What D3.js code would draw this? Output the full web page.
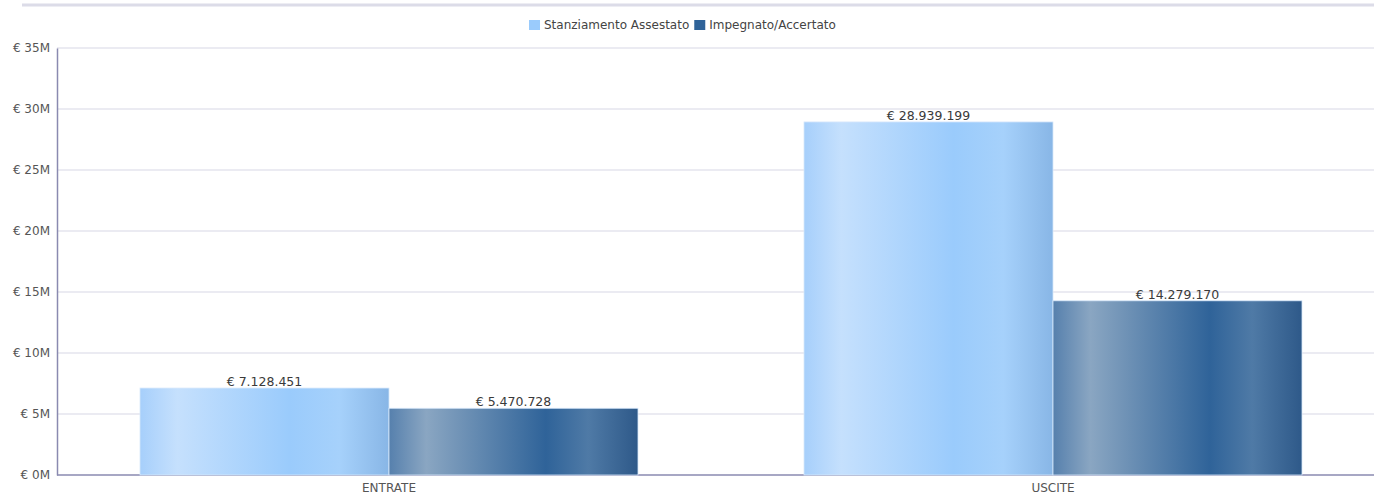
<!DOCTYPE html>
<html lang="en">
<head>
    <meta charset="UTF-8">
    <title>Entrate / Uscite</title>
    <script src="https://d3js.org/d3.v7.min.js"></script>
    <style>
        body {
            margin: 0;
            background: #fff;
        }

        svg {
            display: block;
            font-family: "DejaVu Sans", sans-serif;
        }

        .grid line {
            stroke: #e4e4ee;
            stroke-width: 1.5px;
        }

        .tick-label {
            font-family: "DejaVu Sans", sans-serif;
            font-size: 12px;
            fill: #555;
        }

        .value-label {
            font-size: 12.5px;
            fill: #3a3a3a;
        }
    </style>
</head>
<body>
    <script>
        const categories = ["ENTRATE", "USCITE"];
        const seriesNames = ["Stanziamento Assestato", "Impegnato/Accertato"];
        const stanziamento = [7128451, 28939199];
        const impegnato = [5470728, 14279170];
        const yTicks = [0, 5e6, 10e6, 15e6, 20e6, 25e6, 30e6, 35e6];

        const width = 1374, height = 495;
        const margin = { top: 48, right: -11, bottom: 20, left: 57 };

        const svg = d3.select("body").append("svg")
            .attr("width", width)
            .attr("height", height);

        // bar gradients
        const defs = svg.append("defs");
        const gradients = [
            { id: "gLight", stops: [[0, "#a6cffb"], [0.15, "#c5e0fd"], [0.6, "#9acbfc"], [0.8, "#a6d1fb"], [1, "#88b6e6"]] },
            { id: "gDark", stops: [[0, "#5680ad"], [0.15, "#8aa6c2"], [0.63, "#2f6399"], [0.8, "#4f7aa6"], [1, "#2e5989"]] }
        ];
        gradients.forEach(g => {
            const lg = defs.append("linearGradient")
                .attr("id", g.id)
                .attr("x1", "0%").attr("x2", "100%")
                .attr("y1", "0%").attr("y2", "0%");
            g.stops.forEach(s => lg.append("stop").attr("offset", s[0]).attr("stop-color", s[1]));
        });

        const x0 = d3.scaleBand()
            .domain(categories)
            .range([margin.left, width - margin.right])
            .paddingInner(0.25)
            .paddingOuter(0.125);

        const x1 = d3.scaleBand()
            .domain(seriesNames)
            .range([0, x0.bandwidth()]);

        const y = d3.scaleLinear()
            .domain([0, 35e6])
            .range([height - margin.bottom, margin.top]);

        // top border line
        svg.append("line")
            .attr("x1", 22).attr("x2", width)
            .attr("y1", 5).attr("y2", 5)
            .attr("stroke", "#dcdce8")
            .attr("stroke-width", 3);

        // grid
        svg.append("g")
            .attr("class", "grid")
            .selectAll("line")
            .data(yTicks.filter(d => d > 0))
            .join("line")
            .attr("x1", margin.left)
            .attr("x2", width)
            .attr("y1", d => y(d))
            .attr("y2", d => y(d));

        // y axis
        const yAxis = svg.append("g")
            .attr("transform", `translate(${margin.left},0)`)
            .call(d3.axisLeft(y).tickValues(yTicks).tickSize(0).tickPadding(7).tickFormat(d => `€ ${d / 1e6}M`));
        yAxis.select(".domain").attr("stroke", "#8a8ab0").attr("stroke-width", 1.5);
        yAxis.selectAll(".tick text").attr("class", "tick-label");

        // x axis
        const xAxis = svg.append("g")
            .attr("transform", `translate(0,${y(0)})`)
            .call(d3.axisBottom(x0).tickSize(0).tickPadding(8));
        xAxis.select(".domain").attr("stroke", "#8a8ab0").attr("stroke-width", 1.5)
            .attr("d", `M${margin.left},0H${width}`);
        xAxis.selectAll(".tick text").attr("class", "tick-label");

        // bars
        const rows = categories.map((c, i) => ({
            cat: c,
            vals: [
                { name: seriesNames[0], v: stanziamento[i], fill: "url(#gLight)" },
                { name: seriesNames[1], v: impegnato[i], fill: "url(#gDark)" }
            ]
        }));

        const fmt = d3.formatLocale({ decimal: ",", thousands: ".", grouping: [3], currency: ["€", ""] }).format(",d");

        const groups = svg.append("g")
            .selectAll("g")
            .data(rows)
            .join("g")
            .attr("transform", d => `translate(${x0(d.cat)},0)`);

        groups.selectAll("rect")
            .data(d => d.vals)
            .join("rect")
            .attr("x", d => x1(d.name))
            .attr("y", d => y(d.v))
            .attr("width", x1.bandwidth())
            .attr("height", d => y(0) - y(d.v))
            .attr("fill", d => d.fill)
            .attr("stroke", "#d8e8fb")
            .attr("stroke-width", 0.8);

        groups.selectAll("text")
            .data(d => d.vals)
            .join("text")
            .attr("class", "value-label")
            .attr("x", d => x1(d.name) + x1.bandwidth() / 2)
            .attr("y", d => y(d.v) - 2)
            .attr("text-anchor", "middle")
            .text(d => `€ ${fmt(d.v)}`);

        // legend
        const legend = svg.append("g").attr("transform", "translate(529,0)");
        let lx = 0;
        seriesNames.forEach((name, i) => {
            legend.append("rect")
                .attr("x", lx).attr("y", 20)
                .attr("width", 11).attr("height", 10)
                .attr("fill", gradients[i].stops[2][1]);
            const t = legend.append("text")
                .attr("x", lx + 15).attr("y", 29)
                .attr("font-size", 12)
                .attr("fill", "#444")
                .text(name);
            lx += 15 + t.node().getComputedTextLength() + 5;
        });
    </script>
</body>
</html>
